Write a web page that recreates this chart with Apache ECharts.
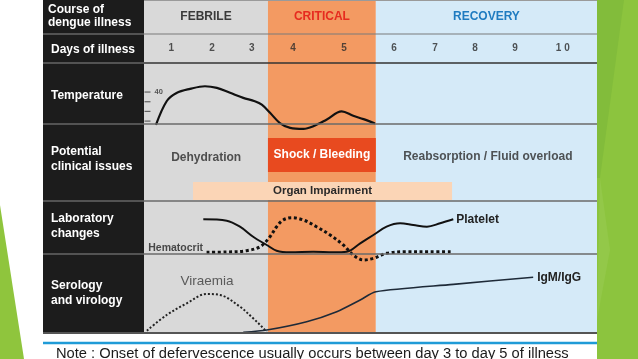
<!DOCTYPE html>
<html><head><meta charset="utf-8">
<script src="https://cdn.jsdelivr.net/npm/echarts@6/dist/echarts.min.js"></script>
<style>html,body{margin:0;padding:0;background:#fff}#c{width:638px;height:359px}</style>
</head><body><div id="c"></div>
<script>
// ---- data (x unit: timeline position in days from the start of the febrile phase) ----
const phaseNames = ['FEBRILE', 'CRITICAL', 'RECOVERY'];
const phaseStart = [0, 3.01, 5.63];
const phaseEnd = [3.01, 5.63, 11];
const dayLabels = ['1', '2', '3', '4', '5', '6', '7', '8', '9', '1 0'];
const dayPos = [0.66, 1.65, 2.62, 3.62, 4.86, 6.07, 7.07, 8.04, 9.01, 10.17];
const tempTicks = [37, 38, 39, 40];
const tempLabelTicks = [40];
const tempDay = [0.29, 0.55, 0.79, 1.12, 1.48, 1.77, 2.09, 2.41, 2.69, 2.86, 3.06, 3.30, 3.55, 3.87, 4.10, 4.43, 4.80, 5.08, 5.33, 5.61];
const tempC = [36.6, 39.05, 39.9, 40.33, 40.6, 40.43, 39.92, 39.4, 39.05, 38.7, 37.86, 36.8, 36.3, 36.2, 36.45, 37.14, 38.0, 37.55, 37.2, 36.75];
const issueNames = ['Dehydration', 'Shock / Bleeding', 'Reabsorption / Fluid overload'];
const issueX = [1.51, 4.32, 8.35];
const issueY = [0.56, 0.6, 0.58];
const shockLow = [0.377];
const shockHigh = [0.818];
const organName = ['Organ Impairment'];
const organStart = [1.19];
const organEnd = [7.48];
const organLow = [0.013];
const organHigh = [0.247];
const plateletDay = [1.44, 2.01, 2.33, 2.65, 2.98, 3.22, 3.55, 4.11, 4.60, 4.92, 5.25, 5.57, 5.89, 6.22, 6.54, 6.87, 7.19, 7.51];
const plateletLvl = [6.55, 6.28, 5.15, 3.26, 1.70, 0.62, 0.32, 0.43, 0.32, 0.43, 2.02, 3.58, 5.15, 5.79, 5.47, 5.15, 5.79, 6.55];
const hematocritDay = [1.52, 2.01, 2.49, 2.82, 3.06, 3.22, 3.38, 3.59, 3.87, 4.19, 4.52, 4.84, 5.08, 5.33, 5.57, 5.89, 6.38, 6.94, 7.51];
const hematocritLvl = [0.32, 0.38, 0.62, 1.38, 3.26, 5.15, 6.42, 6.85, 6.42, 5.15, 3.58, 1.70, -0.19, -1.13, -0.81, 0.13, 0.43, 0.43, 0.43];
const viraemiaDay = [0.07, 0.55, 1.04, 1.52, 1.85, 2.33, 2.65, 2.90, 2.98];
const viraemiaLvl = [0.29, 2.28, 3.76, 4.94, 4.81, 3.33, 1.86, 0.59, 0.04];
const antibodyDay = [2.41, 2.98, 3.95, 4.68, 5.25, 5.63, 7.51, 9.45];
const antibodyLvl = [0.09, 0.38, 1.43, 2.70, 4.18, 5.23, 6.16, 7.05];
const rowTitles = [['Course of', 'dengue illness'], ['Days of illness'], ['Temperature'], ['Potential', 'clinical issues'], ['Laboratory', 'changes'], ['Serology', 'and virology']];

// ---- styling / layout ----
const FONT = '"Liberation Sans", Arial, sans-serif';
const phaseColors = ['#d9d9d9', '#f39a62', '#d5eaf8'];
const phaseTextColors = ['#3a3a3a', '#e62b1f', '#1f7bc0'];
const L = 144, W = 453;
const gridDefs = [
  { top: 0, height: 333 },   // background
  { top: 34, height: 29 },   // days
  { top: 63, height: 61 },   // temperature
  { top: 124, height: 77 },  // clinical issues
  { top: 201, height: 53 },  // lab
  { top: 254, height: 79 }   // serology
];
const zip = (a, b) => a.map((v, i) => [v, b[i]]);

const rowTitleY = [[10, 22.5], [50], [95.5], [151.5, 166.5], [219, 234], [285.5, 300.5]];
const graphics = [];
// green decorations
graphics.push({ type: 'rect', shape: { x: 597, y: 0, width: 41, height: 359 }, style: { fill: '#8cc43e' }, z: 0 });
graphics.push({ type: 'polygon', shape: { points: [[597, 0], [624, 0], [600, 178], [597, 178]] }, style: { fill: '#82bc3b' }, z: 0 });
graphics.push({ type: 'polygon', shape: { points: [[600, 178], [610, 250], [597, 320]] }, style: { fill: '#93c849' }, z: 0 });
graphics.push({ type: 'polygon', shape: { points: [[0, 205], [24, 359], [0, 359]] }, style: { fill: '#8fc53d' }, z: 0 });
// black header column
graphics.push({ type: 'rect', shape: { x: 43, y: 0, width: 101, height: 333 }, style: { fill: '#1c1c1c' }, z: 0 });
rowTitles.forEach((lines, r) => {
  lines.forEach((t, k) => {
    graphics.push({ type: 'text', x: r === 0 ? 48 : 51, y: rowTitleY[r][k], z: 10,
      style: { text: t, fill: '#ffffff', font: 'bold 12px ' + FONT, textVerticalAlign: 'middle', verticalAlign: 'middle' } });
  });
});
// separators
[34, 63, 124, 201, 254].forEach(y => {
  graphics.push({ type: 'line', shape: { x1: 43, y1: y, x2: 144, y2: y }, style: { stroke: '#8a8a8a', lineWidth: 1.2 }, z: 10 });
});
graphics.push({ type: 'line', shape: { x1: 144, y1: 0.5, x2: 597, y2: 0.5 }, style: { stroke: '#9a9a9a', lineWidth: 1 }, z: 10 });
[[34, '#7a7a7a', 1.2], [63, '#333', 1.6], [124, '#6a6a6a', 1.5], [201, '#6a6a6a', 1.5], [254, '#6a6a6a', 1.5]].forEach(([y, c, w]) => {
  graphics.push({ type: 'line', shape: { x1: 144, y1: y, x2: 597, y2: y }, style: { stroke: c, lineWidth: w }, z: 10 });
});
graphics.push({ type: 'line', shape: { x1: 43, y1: 333, x2: 597, y2: 333 }, style: { stroke: '#555', lineWidth: 2 }, z: 10 });
graphics.push({ type: 'line', shape: { x1: 43, y1: 343, x2: 597, y2: 343 }, style: { stroke: '#1f9bd7', lineWidth: 2.5 }, z: 10 });
graphics.push({ type: 'text', x: 56, y: 353.5, z: 10,
  style: { text: 'Note : Onset of defervescence usually occurs between day 3 to day 5 of illness', fill: '#1a1a1a', font: '14.7px ' + FONT, textVerticalAlign: 'middle', verticalAlign: 'middle' } });

const xAxes = gridDefs.map((g, i) => ({ type: 'value', gridIndex: i, min: 0, max: 11, show: false }));
const yAxes = [
  { type: 'value', gridIndex: 0, min: 0, max: 1, show: false },
  { type: 'value', gridIndex: 1, min: 0, max: 1, show: false },
  { type: 'value', gridIndex: 2, min: 36.7, max: 43, show: false },
  { type: 'value', gridIndex: 3, min: 0, max: 1, show: false },
  { type: 'value', gridIndex: 4, min: 0, max: 10, show: false },
  { type: 'value', gridIndex: 5, min: 0, max: 10, show: false }
];

const textLabel = (extra) => Object.assign({ show: true, fontFamily: FONT, fontWeight: 'bold', fontSize: 12, color: '#2b2b2b', position: 'inside', formatter: '{b}' }, extra);
const clear = { color: 'rgba(0,0,0,0)' };

const series = [
  // phase backgrounds + headers
  { type: 'line', xAxisIndex: 0, yAxisIndex: 0, data: [], z: 1, silent: true,
    markArea: { silent: true, data: phaseNames.map((n, i) => [
      { name: n, xAxis: phaseStart[i], yAxis: 0, itemStyle: { color: phaseColors[i], opacity: 1 },
        label: { show: true, position: 'insideTop', distance: 10.5, fontFamily: FONT, fontWeight: 'bold', fontSize: 12, color: phaseTextColors[i] } },
      { xAxis: phaseEnd[i], yAxis: 1 }]) } },
  // day labels
  { type: 'scatter', xAxisIndex: 1, yAxisIndex: 1, z: 6, silent: true, symbolSize: 1, itemStyle: clear,
    data: dayPos.map((x, i) => ({ name: dayLabels[i], value: [x, 0.5] })),
    label: textLabel({ fontSize: 10, color: '#2a2a2a' }) },
  // temperature scale ticks
  { type: 'scatter', xAxisIndex: 2, yAxisIndex: 2, z: 7, silent: true, clip: false, symbol: 'rect', symbolSize: [6, 1.2], symbolOffset: [3.5, 0],
    itemStyle: { color: '#444' }, data: tempTicks.map(t => [0, t]) },
  { type: 'scatter', xAxisIndex: 2, yAxisIndex: 2, z: 7, silent: true, clip: false, symbolSize: 1, itemStyle: clear,
    data: tempLabelTicks.map(t => ({ name: String(t), value: [0, t] })),
    label: textLabel({ position: 'right', distance: 10, fontSize: 7.5, color: '#333' }) },
  // temperature
  { type: 'line', xAxisIndex: 2, yAxisIndex: 2, z: 8, silent: true, clip: false, smooth: 0.35, showSymbol: false,
    data: zip(tempDay, tempC), lineStyle: { color: '#111', width: 2.2 } },
  // shock / bleeding + organ impairment
  { type: 'line', xAxisIndex: 3, yAxisIndex: 3, data: [], z: 4, silent: true,
    markArea: { silent: true, data: [
      [{ name: issueNames[1], xAxis: phaseStart[1], yAxis: shockLow[0], itemStyle: { color: '#e84a1f', opacity: 1 },
         label: textLabel({ position: 'inside', color: '#ffffff' }) }, { xAxis: phaseEnd[1], yAxis: shockHigh[0] }],
      [{ name: organName[0], xAxis: organStart[0], yAxis: organLow[0], itemStyle: { color: '#fbd5b6', opacity: 1 },
         label: textLabel({ position: 'inside', color: '#2a2a2a', fontSize: 11.5 }) }, { xAxis: organEnd[0], yAxis: organHigh[0] }]
    ] } },
  { type: 'scatter', xAxisIndex: 3, yAxisIndex: 3, z: 6, silent: true, symbolSize: 1, itemStyle: clear,
    data: [0, 2].map(i => ({ name: issueNames[i], value: [issueX[i], issueY[i]] })),
    label: textLabel({}) },
  // lab: platelet
  { type: 'line', xAxisIndex: 4, yAxisIndex: 4, z: 8, silent: true, clip: false, smooth: 0.35, showSymbol: false,
    data: zip(plateletDay, plateletLvl), lineStyle: { color: '#111', width: 2 },
    endLabel: { show: true, formatter: 'Platelet', distance: 3, fontFamily: FONT, fontWeight: 'bold', fontSize: 12, color: '#222' } },
  // lab: hematocrit
  { type: 'line', xAxisIndex: 4, yAxisIndex: 4, z: 8, silent: true, clip: false, smooth: 0.35, showSymbol: false,
    data: zip(hematocritDay, hematocritLvl), lineStyle: { color: '#111', width: 3, type: [3, 2.6] } },
  { type: 'scatter', xAxisIndex: 4, yAxisIndex: 4, z: 6, silent: true, symbolSize: 1, itemStyle: clear,
    data: [{ name: 'Hematocrit', value: [hematocritDay[0], hematocritLvl[0]] }],
    label: textLabel({ position: 'left', distance: 3, offset: [0, -4.5], fontSize: 10.5, color: '#222' }) },
  // serology: viraemia
  { type: 'line', xAxisIndex: 5, yAxisIndex: 5, z: 8, silent: true, clip: false, smooth: 0.35, showSymbol: false,
    data: zip(viraemiaDay, viraemiaLvl), lineStyle: { color: '#222', width: 2, type: [2, 2] } },
  { type: 'scatter', xAxisIndex: 5, yAxisIndex: 5, z: 6, silent: true, symbolSize: 1, itemStyle: clear,
    data: [{ name: 'Viraemia', value: [1.53, 6.58] }],
    label: textLabel({ fontWeight: 'normal', fontSize: 13.5, color: '#3a3a3a' }) },
  // serology: IgM/IgG
  { type: 'line', xAxisIndex: 5, yAxisIndex: 5, z: 8, silent: true, clip: false, smooth: 0.25, showSymbol: false,
    data: zip(antibodyDay, antibodyLvl), lineStyle: { color: '#1e2a38', width: 1.6 },
    endLabel: { show: true, formatter: 'IgM/IgG', distance: 4, fontFamily: FONT, fontWeight: 'bold', fontSize: 12, color: '#222' } }
];

const chart = echarts.init(document.getElementById('c'), null, { renderer: 'canvas' });
chart.setOption({
  animation: false,
  backgroundColor: '#ffffff',
  grid: gridDefs.map(g => ({ left: L, width: W, top: g.top, height: g.height, containLabel: false })),
  xAxis: xAxes,
  yAxis: yAxes,
  graphic: { elements: graphics },
  series: series
});
</script>
</body></html>
